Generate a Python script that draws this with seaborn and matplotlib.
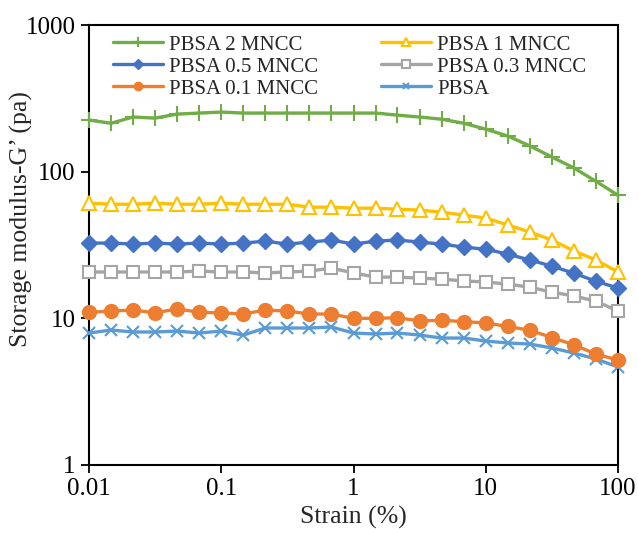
import numpy as np
import pandas as pd
import matplotlib
matplotlib.use("Agg")
import matplotlib.pyplot as plt
import seaborn as sns

# Strain (%) - 6 points per decade from 0.01 to 100
strain = [0.01, 0.0147, 0.0215, 0.0316, 0.0464, 0.0681, 0.1, 0.147, 0.215, 0.316, 0.464, 0.681,
          1.0, 1.47, 2.15, 3.16, 4.64, 6.81, 10.0, 14.7, 21.5, 31.6, 46.4, 68.1, 100.0]

pbsa_2 = [225, 214, 236, 232, 247, 251, 255, 251, 251, 251, 251, 251,
          251, 251, 243, 236, 228, 214, 195, 175, 150, 126, 106, 86, 69]
pbsa_1 = [61.0, 60.0, 60.0, 61.0, 60.0, 60.0, 61.0, 60.0, 60.0, 60.0, 57.3, 57.3,
          56.4, 56.4, 55.5, 54.7, 53.0, 50.6, 48.3, 43.3, 38.8, 34.2, 28.8, 25.0, 20.7]
pbsa_05 = [32.6, 32.6, 32.1, 32.6, 32.1, 32.6, 32.1, 32.6, 33.6, 32.1, 33.1, 34.2,
           32.1, 33.6, 34.2, 33.1, 32.1, 30.6, 29.6, 27.4, 25.0, 22.7, 20.3, 17.9, 16.1]
pbsa_03 = [20.7, 20.7, 20.7, 20.7, 20.7, 21.0, 20.7, 20.7, 20.4, 20.7, 21.0, 22.0,
           20.4, 19.1, 19.1, 18.8, 18.5, 18.0, 17.7, 17.1, 16.3, 15.1, 14.2, 13.1, 11.2]
pbsa_01 = [11.0, 11.2, 11.4, 10.9, 11.6, 11.0, 10.9, 10.7, 11.4, 11.2, 10.7, 10.7,
           10.0, 10.0, 10.1, 9.6, 9.7, 9.5, 9.3, 8.8, 8.3, 7.4, 6.6, 5.7, 5.2]
pbsa_0 = [7.94, 8.32, 8.07, 8.07, 8.19, 7.94, 8.19, 7.69, 8.59, 8.59, 8.59, 8.73,
          7.94, 7.82, 7.94, 7.69, 7.34, 7.34, 7.0, 6.79, 6.68, 6.28, 5.80, 5.28, 4.66]

labels = ["PBSA 2 MNCC", "PBSA 0.5 MNCC", "PBSA 0.1 MNCC",
          "PBSA 1 MNCC", "PBSA 0.3 MNCC", "PBSA"]
values = [pbsa_2, pbsa_05, pbsa_01, pbsa_1, pbsa_03, pbsa_0]

styles = {
    "PBSA 2 MNCC": dict(color="#70AD47", marker="+", ms=12, mfc="#70AD47", mew=1.5),
    "PBSA 0.5 MNCC": dict(color="#4472C4", marker="D", ms=8, mfc="#4472C4", mew=1),
    "PBSA 0.1 MNCC": dict(color="#ED7D31", marker="o", ms=10, mfc="#ED7D31", mew=1),
    "PBSA 1 MNCC": dict(color="#FFC000", marker="^", ms=10, mfc="white", mew=1.5),
    "PBSA 0.3 MNCC": dict(color="#A5A5A5", marker="s", ms=9, mfc="white", mew=1.5),
    "PBSA": dict(color="#5B9BD5", marker="x", ms=8, mfc="#5B9BD5", mew=1.5),
}

sns.set_style("ticks")
plt.rcParams["font.family"] = ["Liberation Serif", "DejaVu Serif"]

fig = plt.figure(figsize=(6.38, 5.33), dpi=100)
ax = fig.add_axes([0.1395, 0.1276, 0.9687 - 0.1395, 0.953 - 0.1276])

draw_order = ["PBSA", "PBSA 0.1 MNCC", "PBSA 0.3 MNCC", "PBSA 0.5 MNCC", "PBSA 1 MNCC", "PBSA 2 MNCC"]
handles = {}
for lab in draw_order:
    v = values[labels.index(lab)]
    df = pd.DataFrame({"strain": strain, "G": v})
    st = styles[lab]
    sns.lineplot(data=df, x="strain", y="G", ax=ax, color=st["color"], linewidth=2.4,
                 marker=st["marker"], markersize=st["ms"], markerfacecolor=st["mfc"],
                 markeredgecolor=st["color"], markeredgewidth=st["mew"], label=lab,
                 clip_on=False, zorder=3)
    handles[lab] = ax.get_lines()[-1]

ax.set_xscale("log")
ax.set_yscale("log")
ax.set_xlim(0.01, 100)
ax.set_ylim(1, 1000)
ax.set_xticks([0.01, 0.1, 1, 10, 100])
ax.set_xticklabels(["0.01", "0.1", "1", "10", "100"])
ax.set_yticks([1, 10, 100, 1000])
ax.set_yticklabels(["1", "10", "100", "1000"])
ax.minorticks_off()
ax.tick_params(axis="both", labelsize=18, length=6, width=1.3, direction="out", color="black",
               labelcolor="black")
for s in ax.spines.values():
    s.set_visible(True)
    s.set_color("black")
    s.set_linewidth(1.5)

ax.set_xlabel("Strain (%)", fontsize=18.5)
ax.set_ylabel("Storage modulus-G\u2019 (pa)", fontsize=18.5)
ax.xaxis.set_label_coords(0.5, -0.093)
ax.yaxis.set_label_coords(-0.106, 0.56)

leg = ax.legend([handles[l] for l in labels], labels, ncol=2, loc="upper left",
                bbox_to_anchor=(0.01, 1.02), frameon=False, fontsize=15,
                handlelength=2.4, columnspacing=3.0, labelspacing=0.12, handletextpad=0.3,
                markerscale=0.6)

fig.savefig("out.png", dpi=100)
